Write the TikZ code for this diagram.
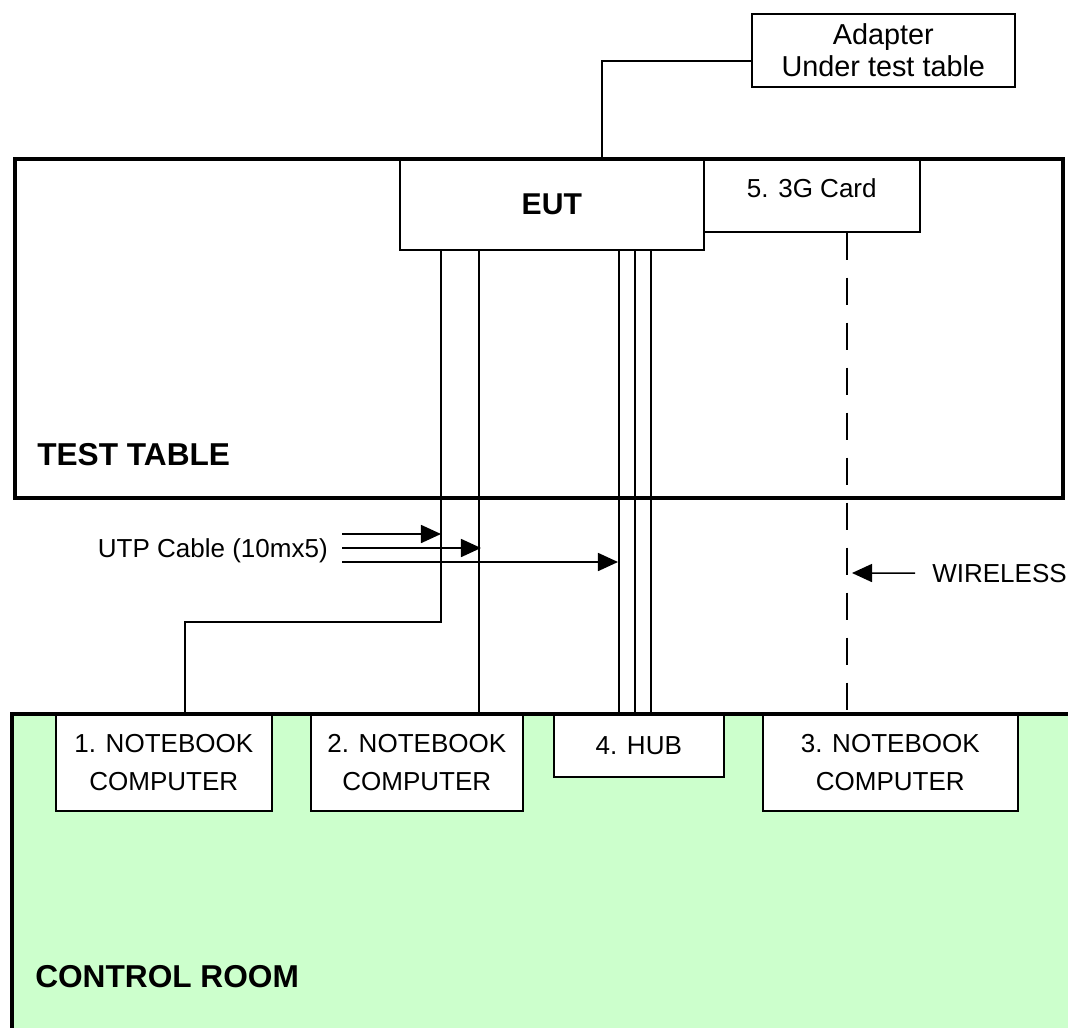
\documentclass[tikz,border=0pt]{standalone}
\usepackage{fontspec}
\setmainfont{Liberation Sans}
\usetikzlibrary{arrows.meta}
\definecolor{roomgreen}{HTML}{CCFFCC}

\begin{document}
\begin{tikzpicture}[x=0.025cm, y=-0.025cm,
	box/.style={draw, fill=white, line width=1.1pt, align=center, inner sep=0pt, font=\fontsize{18.5}{27}\selectfont},
	title/.style={inner sep=0pt, font=\fontsize{22.5}{26}\selectfont\bfseries},
	plain/.style={inner sep=0pt, font=\fontsize{18.5}{22}\selectfont},
	frame/.style={line width=2.8pt},
	cable/.style={line width=1.1pt},
	radio/.style={line width=1.8pt, dash pattern=on 0.675cm off 0.45cm},
	arrowline/.style={line width=1.1pt, -{Triangle[length=0.5cm, width=0.45cm]}}]
	\useasboundingbox (0,0) rectangle (1068,1028);
	\clip (0,0) rectangle (1068,1028);
	\fill[roomgreen] (12,714) rectangle (1090,1050);

	% boxes
	\node[box, anchor=north west, minimum width=6.575cm, minimum height=1.825cm, font=\fontsize{20.5}{22.8}\selectfont] (adapter) at (751,13) {Adapter\\Under test table};
	\node[box, anchor=north west, minimum width=7.6cm, minimum height=2.25cm, font=\fontsize{21.4}{25}\selectfont\bfseries] (eut) at (399,159) {EUT};
	\node[box, anchor=north west, minimum width=5.4cm, inner ysep=0.5cm, text height=0.45cm, text depth=0.35cm] (card) at (703,159) {5. 3G Card};
	\node[box, anchor=north west, minimum width=5.4cm, minimum height=2.4cm] (nbone) at (55,714) {1. NOTEBOOK\\COMPUTER};
	\node[box, anchor=north west, minimum width=5.3cm, minimum height=2.4cm] (nbtwo) at (310,714) {2. NOTEBOOK\\COMPUTER};
	\node[box, anchor=north west, minimum width=4.25cm, minimum height=1.55cm] (hub) at (553,714) {4. HUB};
	\node[box, anchor=north west, minimum width=6.375cm, minimum height=2.4cm] (nbthree) at (762,714) {3. NOTEBOOK\\COMPUTER};

	% cables
	\draw[cable] (adapter.west |- 0,61) -| (eut.north -| 602,0);
	\draw[cable] (eut.south -| 441,0) |- (185,622) -- (nbone.north -| 185,0);
	\draw[cable] (eut.south -| 479,0) -- (nbtwo.north -| 479,0);
	\foreach \x in {619,635,651}
		\draw[cable] (eut.south -| \x,0) -- (hub.north -| \x,0);
	\draw[radio] (card.south -| 847,0) -- (nbthree.north -| 847,0);

	% rooms
	\draw[frame] (15,159) rectangle (1063,498);
	\draw[frame] (12,1050) -- (12,714) -- (1090,714);
	\node[title, anchor=base west] (testtable) at (37,465) {TEST TABLE};
	\node[title, anchor=base west] (controlroom) at (35,987) {CONTROL ROOM};

	% labels
	\node[plain, anchor=base east] (utp) at (328,557) {UTP Cable (10mx5)};
	\foreach \y/\x in {534/441, 548/481, 562/618}
		\draw[arrowline] ([xshift=0.35cm]utp.east |- 0,\y) -- (\x,\y);
	\node[plain, anchor=base west] (wireless) at (932,582) {WIRELESS};
	\draw[arrowline] ([xshift=-0.425cm]wireless.west) -- (852,573);
\end{tikzpicture}
\end{document}
